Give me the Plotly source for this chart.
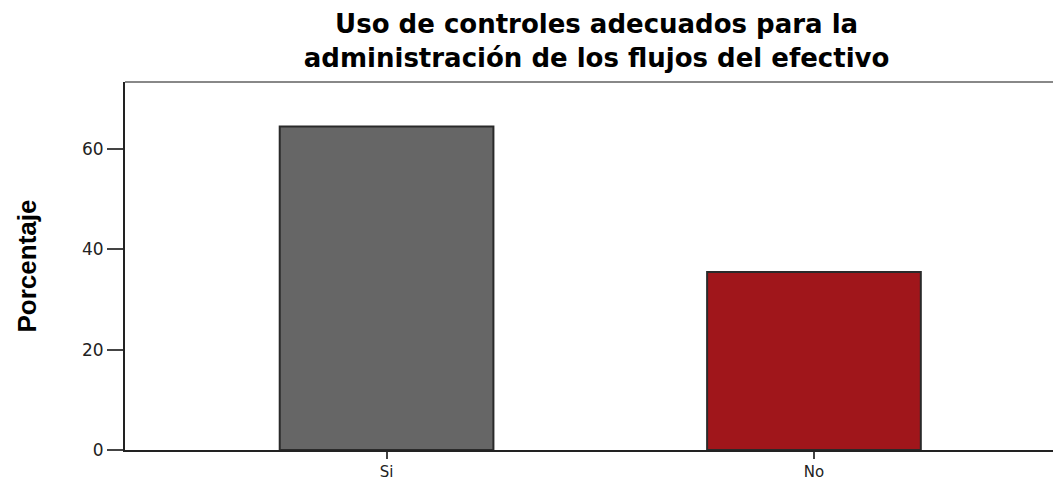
import plotly.graph_objects as go

categories = ["Si", "No"]
percentages = [64.5, 35.5]
bar_colors = ["#666666", "#a0161b"]
y_ticks = [0, 20, 40, 60]

fig = go.Figure()
fig.add_trace(go.Bar(
    x=categories, y=percentages, width=0.5,
    marker=dict(color=bar_colors, line=dict(color="#2a2a2a", width=2)),
))

# page has an 8px body margin; the figure is sized to fill the rest of the window
fig.update_layout(
    width=1053, height=472,
    margin=dict(l=117, r=0, t=74, b=30),
    paper_bgcolor="white", plot_bgcolor="white",
    showlegend=False,
    title=dict(
        text="Uso de controles adecuados para la<br>administración de los flujos del efectivo",
        x=0.559, xanchor="center", y=0.946, yanchor="top",
        font=dict(family="DejaVu Sans", size=26, color="#000000", weight="bold"),
    ),
    font=dict(family="DejaVu Sans", size=17, color="#222222"),
)
fig.update_xaxes(
    range=[-0.612, 1.578], showline=True, linecolor="#222222", linewidth=2,
    ticks="outside", ticklen=7, tickwidth=2, tickcolor="#444444",
    showgrid=False, tickfont=dict(size=15, color="#222222"), automargin=False,
)
fig.update_yaxes(
    range=[0, 73.4], tickvals=y_ticks, showline=True, linecolor="#222222", linewidth=2,
    ticks="outside", ticklen=16, tickwidth=2, tickcolor="#444444",
    showgrid=False, zeroline=False, tickfont=dict(size=17, color="#222222"),
    title=dict(text="<b>Porcentaje</b>", standoff=38,
               font=dict(family="Liberation Sans Narrow, Liberation Sans", size=26, color="#000000")),
)
fig.add_shape(type="line", xref="paper", yref="paper", x0=0, x1=1, y0=1, y1=1,
              line=dict(color="#888888", width=2))

fig.write_html("out.html")
